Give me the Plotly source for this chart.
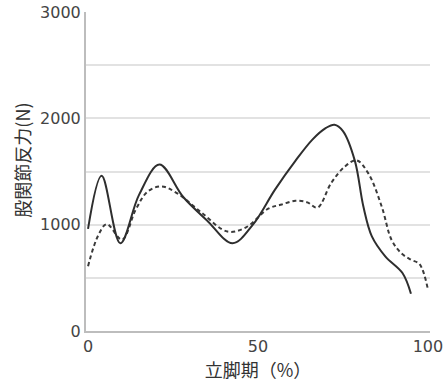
import plotly.graph_objects as go

# Stance phase (%) and hip joint reaction force (N)
solid_x = [0, 4, 9.5, 15, 21, 28, 35, 42.5, 48.5, 55, 61, 66, 70, 72.5, 75, 78.5, 81, 83.5, 87.5, 92.5, 95]
solid_y = [960, 1460, 825, 1280, 1565, 1260, 1040, 825, 1000, 1330, 1600, 1800, 1910, 1940, 1880, 1600, 1170, 890, 700, 545, 350]

dashed_x = [0, 3, 5.5, 10, 14, 17.5, 21.5, 26, 33.5, 41, 46.5, 53, 57, 61, 64.5, 67.5, 71.5, 75.5, 79, 82.5, 86.4, 89.3, 92.2, 95, 97.5, 100]
dashed_y = [610, 900, 1005, 860, 1140, 1310, 1360, 1300, 1110, 935, 975, 1150, 1190, 1225, 1210, 1160, 1390, 1545, 1605, 1480, 1170, 856, 730, 670, 630, 390]

x_ticks = [0, 50, 100]
y_ticks = [0, 1000, 2000, 3000]

CJK = "Noto Sans CJK JP"
NUM = "DejaVu Sans"

fig = go.Figure()
fig.add_trace(go.Scatter(x=dashed_x, y=dashed_y, mode="lines",
                         line=dict(color="#3a3a3a", width=2, dash="4px,3px", shape="spline", smoothing=1.0),
                         showlegend=False, hoverinfo="skip"))
fig.add_trace(go.Scatter(x=solid_x, y=solid_y, mode="lines",
                         line=dict(color="#2e2e2e", width=2, shape="spline", smoothing=1.0),
                         showlegend=False, hoverinfo="skip"))

fig.update_layout(
    width=443, height=388,
    margin=dict(l=86, r=13, t=12, b=57),
    paper_bgcolor="white", plot_bgcolor="white",
    font=dict(family=CJK, color="#444444", size=17),
    xaxis=dict(range=[-0.6, 100.6], tickvals=x_ticks, ticktext=[str(v) for v in x_ticks],
               showgrid=False, zeroline=False, showline=True, linecolor="#bdbdbd", linewidth=2,
               ticks="", automargin=False, ticklabeloverflow="allow",
               tickfont=dict(family=NUM, size=16, color="#444444"),
               title=dict(text="立脚期（%）", font=dict(family=CJK, size=18, color="#333333"), standoff=8)),
    yaxis=dict(range=[0, 3000], tickvals=y_ticks, ticktext=[str(v) for v in y_ticks],
               showgrid=True, gridcolor="#e2e2e2", gridwidth=2,
               minor=dict(dtick=500, tick0=0, showgrid=True, gridcolor="#e2e2e2", gridwidth=2),
               zeroline=False, showline=True, linecolor="#bdbdbd", linewidth=2,
               ticks="", automargin=False, ticklabeloverflow="allow",
               tickfont=dict(family=NUM, size=16, color="#444444")),
    annotations=[dict(text="股関節反力(N)", textangle=-90, xref="paper", yref="paper",
                      x=-0.185, y=0.535, xanchor="center", yanchor="middle", showarrow=False,
                      font=dict(family=CJK, size=18, color="#333333"))],
)

fig.write_html("out.html", config={"displayModeBar": False},
               post_script="document.body.style.margin='0';")
